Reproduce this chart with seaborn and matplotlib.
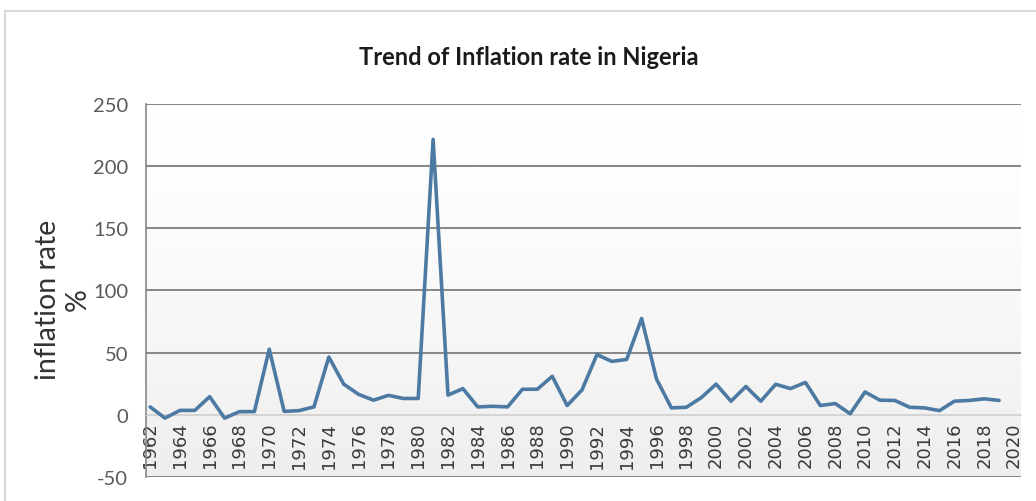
import numpy as np
import matplotlib.pyplot as plt
import seaborn as sns
from matplotlib.colors import LinearSegmentedColormap
from matplotlib.patches import Rectangle

# inflation rate (%), 1962-2019
years = list(range(1962, 2020))
inflation = [6.3, -2.7, 3.5, 3.5, 14.5, -2.7, 2.5, 2.5, 52.7, 2.7,
             3.3, 6.3, 46.4, 24.6, 16.4, 11.7, 15.6, 13.1, 13.1, 221.5,
             15.8, 21.0, 6.3, 6.8, 6.3, 20.5, 20.5, 30.9, 7.4, 20.0,
             48.4, 42.9, 44.5, 77.4, 28.7, 5.5, 6.0, 13.7, 24.6, 10.9,
             22.7, 10.9, 24.5, 21.0, 26.0, 7.4, 9.0, 0.8, 18.3, 11.7,
             11.5, 6.0, 5.5, 3.3, 10.9, 11.5, 12.8, 11.5]
tick_years = list(range(1962, 2021, 2))
y_ticks = [-50, 0, 50, 100, 150, 200, 250]

sns.set_style("white")
plt.rcParams['font.family'] = ['Lato', 'DejaVu Sans']
plt.rcParams['axes.unicode_minus'] = False

fig, ax = plt.subplots(figsize=(10.36, 5.02), dpi=100)
fig.subplots_adjust(left=0.141, right=0.9855, top=0.791, bottom=0.048)

# excel style grey gradient in the plot area
grad = np.linspace(0, 1, 256).reshape(-1, 1) ** 1.5
bg = LinearSegmentedColormap.from_list('bg', ['#ffffff', '#eeeeee'])
ax.imshow(grad, cmap=bg, aspect='auto', extent=[0, 1, 0, 1],
          transform=ax.transAxes, zorder=0)

sns.lineplot(x=years, y=inflation, color='#4d7aa3', linewidth=2.6, ax=ax, zorder=3)

# move the category axis to y=0 first (this resets the ticks)
ax.spines['bottom'].set_position(('data', 0))
ax.spines['bottom'].set_color('#d4d4d4')
ax.spines['left'].set_color('#868686')
ax.spines['left'].set_linewidth(1.2)
ax.spines['top'].set_visible(False)
ax.spines['right'].set_visible(False)

ax.set_xlim(1961.73, 2020.47)
ax.set_ylim(-50, 250)
ax.set_yticks(y_ticks)
ax.set_xticks(tick_years)
ax.set_xticklabels([str(y) for y in tick_years], fontsize=13,
                   family='DejaVu Sans', color='#3a3a3a')
ax.tick_params(axis='x', length=0, pad=5, labelrotation=90)
ax.tick_params(axis='y', length=5, color='#868686', labelsize=14.5,
               labelcolor='#595959', pad=8)

ax.yaxis.grid(True, color='#868686', linewidth=1.4)
for line, t in zip(ax.get_ygridlines(), y_ticks):
    if t == 0:
        line.set_color('#d4d4d4')

fig.text(0.51, 0.886, 'Trend of Inflation rate in Nigeria', fontsize=17,
         fontweight='bold', ha='center', va='center', color='#1a1a1a')
fig.text(63 / 1036, 1 - 300 / 502, 'inflation rate\n%', rotation=90,
         ha='center', va='center', multialignment='center', fontsize=20.5,
         linespacing=1.15, color='#333333')

# chart area border
fig.patches.append(Rectangle((5 / 1036, -0.1), 2, 1.1 - 12 / 502, fill=False,
                             edgecolor='#d9d9d9', linewidth=1.5,
                             transform=fig.transFigure, figure=fig))

fig.savefig('out.png', dpi=100)
